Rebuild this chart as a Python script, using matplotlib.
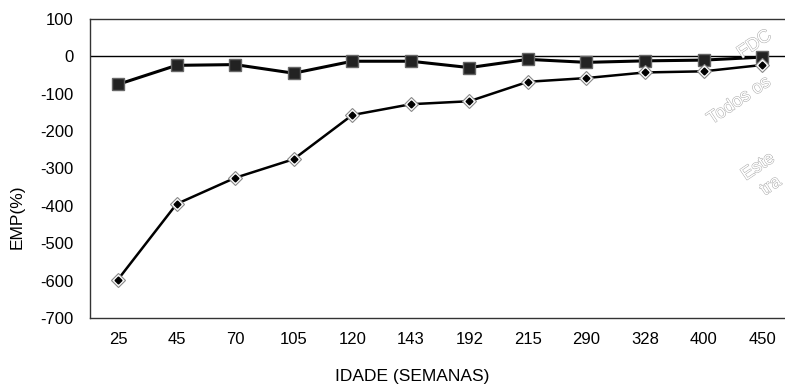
import matplotlib.pyplot as plt
import matplotlib.patheffects as pe
import numpy as np

plt.rcParams["font.family"] = ["Liberation Sans", "DejaVu Sans"]
plt.rcParams["axes.unicode_minus"] = False

idade = ["25", "45", "70", "105", "120", "143", "192", "215", "290", "328", "400", "450"]
emp_quadrado = [-75, -24, -22, -45, -13, -13, -30, -8, -16, -12, -10, -2]
emp_losango = [-597, -395, -325, -275, -157, -128, -120, -68, -58, -43, -40, -23]

fig = plt.figure(figsize=(7.85, 3.87), dpi=100)
ax = fig.add_axes([90 / 785, 1 - 318 / 387, 695 / 785, 299 / 387])

x = np.arange(len(idade))

ax.axhline(0, color="black", linewidth=1.0, zorder=1)

ax.plot(x, emp_quadrado, color="black", linewidth=2.2, zorder=3)
ax.plot(x, emp_quadrado, linestyle="none", marker="s", markersize=9,
        markerfacecolor="#222222", markeredgecolor="#666666", markeredgewidth=1.0, zorder=4)

ax.plot(x, emp_losango, color="black", linewidth=1.8, zorder=3)
ax.plot(x, emp_losango, linestyle="none", marker="D", markersize=7.5,
        markerfacecolor="white", markeredgecolor="#888888", markeredgewidth=0.8, zorder=4)
ax.plot(x, emp_losango, linestyle="none", marker="D", markersize=3.5,
        markerfacecolor="black", markeredgecolor="black", zorder=5)

ax.set_xlim(-0.478, 11.39)
ax.set_ylim(-700, 100)
ax.set_yticks(np.arange(-700, 101, 100))
ax.set_xticks(x)
ax.set_xticklabels(idade)
ax.tick_params(axis="both", length=0, labelsize=12, colors="black")
ax.tick_params(axis="x", pad=10)
ax.tick_params(axis="y", pad=12)

for lado in ["top", "left", "bottom"]:
    ax.spines[lado].set_color("#333333")
    ax.spines[lado].set_linewidth(1.0)
ax.spines["right"].set_visible(False)

fig.text(17 / 785, 1 - 217 / 387, "EMP(%)", fontsize=12.5, rotation=90,
         ha="center", va="center")
fig.text(412 / 785, 1 - 376 / 387, "IDADE (SEMANAS)", fontsize=12.5,
         ha="center", va="center")

# marca d'agua vazada no canto direito
contorno = [pe.withStroke(linewidth=0.7, foreground="#a8a8a8")]
marca = dict(color="white", fontsize=13, rotation=34, ha="left", va="bottom",
             rotation_mode="anchor", path_effects=contorno, zorder=0)
fig.text(744 / 785, 1 - 62 / 387, "FDC", **marca)
fig.text(714 / 785, 1 - 128 / 387, "Todos os", **marca)
fig.text(748 / 785, 1 - 184 / 387, "Este", **marca)
fig.text(767 / 785, 1 - 199 / 387, "tra", **marca)

fig.savefig("out.png", dpi=100)
